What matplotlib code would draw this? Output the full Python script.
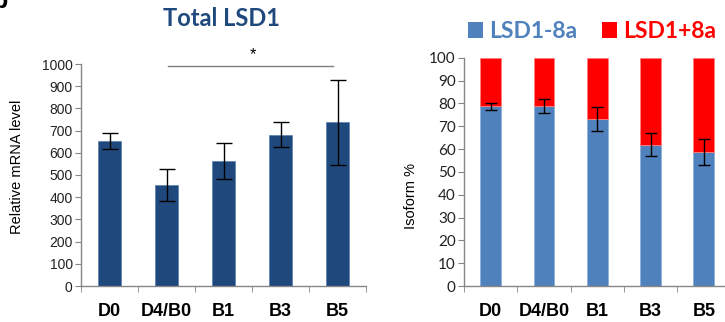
import matplotlib
matplotlib.use('Agg')
import matplotlib.pyplot as plt
from matplotlib.patches import Rectangle

days = ['D0', 'D4/B0', 'B1', 'B3', 'B5']

total_lsd1 = [653, 453, 563, 682, 737]
total_err = [35, 72, 80, 55, 190]

lsd1_minus8a = [78.7, 78.7, 73.1, 61.8, 58.7]
lsd1_plus8a = [100 - v for v in lsd1_minus8a]
isoform_err = [1.6, 3.1, 5.3, 5.0, 5.6]

W, H = 725, 322
fig = plt.figure(figsize=(W / 100, H / 100), dpi=100)

dark_blue = '#1F497D'
mid_blue = '#4F81BD'
red = '#FF0000'
axis_grey = '#868686'
arial = 'Liberation Sans'
calibri = 'Lato'

def style_axes(ax, n):
    for s in ['top', 'right']:
        ax.spines[s].set_visible(False)
    for s in ['left', 'bottom']:
        ax.spines[s].set_color(axis_grey)
        ax.spines[s].set_linewidth(1.0)
    ax.set_xlim(-0.5, n - 0.5)
    ax.set_xticks(range(n))
    ax.set_xticks([i - 0.5 for i in range(n + 1)], minor=True)
    ax.tick_params(axis='x', which='major', length=0, pad=12)
    ax.tick_params(axis='x', which='minor', length=4, color=axis_grey, direction='out')
    ax.tick_params(axis='y', length=4, color=axis_grey, direction='out', pad=2)

# left panel: total LSD1
ax1 = fig.add_axes([81 / W, (H - 286) / H, 285 / W, 222 / H])
x = range(len(days))
ax1.bar(x, total_lsd1, width=0.39, color=dark_blue, edgecolor='#5B7FAE', linewidth=0.5,
        yerr=total_err, error_kw=dict(ecolor='black', elinewidth=1, capsize=5.5, capthick=1))
ax1.set_ylim(0, 1000)
ax1.set_yticks(range(0, 1001, 100))
style_axes(ax1, len(days))
ax1.set_xticklabels(days, fontfamily=arial, fontweight='bold', fontsize=13)
for lab in ax1.get_yticklabels():
    lab.set_fontfamily(arial)
    lab.set_fontsize(10)
    lab.set_color('#222222')
ax1.set_ylabel('Relative mRNA level', fontfamily=arial, fontsize=10.5)
ax1.yaxis.set_label_coords(-0.2, 0.538)
ax1.plot([1.03, 3.92], [991, 991], color='#7F7F7F', lw=1, clip_on=False)
ax1.text(2.52, 1008, '*', ha='center', va='bottom', fontsize=12, fontfamily=arial)
fig.text(222 / W, 1 - 19 / H, 'Total LSD1', ha='center', va='center',
         fontfamily=calibri, fontweight='bold', fontsize=17, color=dark_blue)

# right panel: isoform share
ax2 = fig.add_axes([464 / W, (H - 286) / H, 266.5 / W, 228.3 / H])
ax2.bar(x, lsd1_minus8a, width=0.39, color=mid_blue, edgecolor='#8EB0DA', linewidth=0.6)
ax2.bar(x, lsd1_plus8a, bottom=lsd1_minus8a, width=0.39, color=red, edgecolor='#FF7F7F',
        linewidth=0.6)
ax2.errorbar(x, lsd1_minus8a, yerr=isoform_err, fmt='none', ecolor='black', elinewidth=1,
             capsize=4.5, capthick=1)
ax2.set_ylim(0, 100)
ax2.set_yticks(range(0, 101, 10))
style_axes(ax2, len(days))
ax2.set_xticklabels(days, fontfamily=arial, fontweight='bold', fontsize=13)
for lab in ax2.get_yticklabels():
    lab.set_fontfamily(calibri)
    lab.set_fontsize(11)
    lab.set_color('#222222')
ax2.set_ylabel('Isoform %', fontfamily=arial, fontsize=10.5)
ax2.yaxis.set_label_coords(-0.173, 0.394)

# legend above the right panel
for px, col, txt, tx in [(468, mid_blue, 'LSD1-8a', 489), (602, red, 'LSD1+8a', 623)]:
    fig.patches.append(Rectangle((px / W, 1 - 37.5 / H), 15 / W, 15 / H,
                                 transform=fig.transFigure, facecolor=col, edgecolor='none'))
    fig.text(tx / W, 1 - 31 / H, txt, ha='left', va='center', fontfamily=calibri,
             fontweight='bold', fontsize=16.5, color=col)

# cut-off panel letter
fig.text(-8 / W, 1 - 8 / H, 'b', ha='left', va='baseline', fontfamily=arial,
         fontweight='bold', fontsize=18)

fig.savefig('out.png', dpi=100)
